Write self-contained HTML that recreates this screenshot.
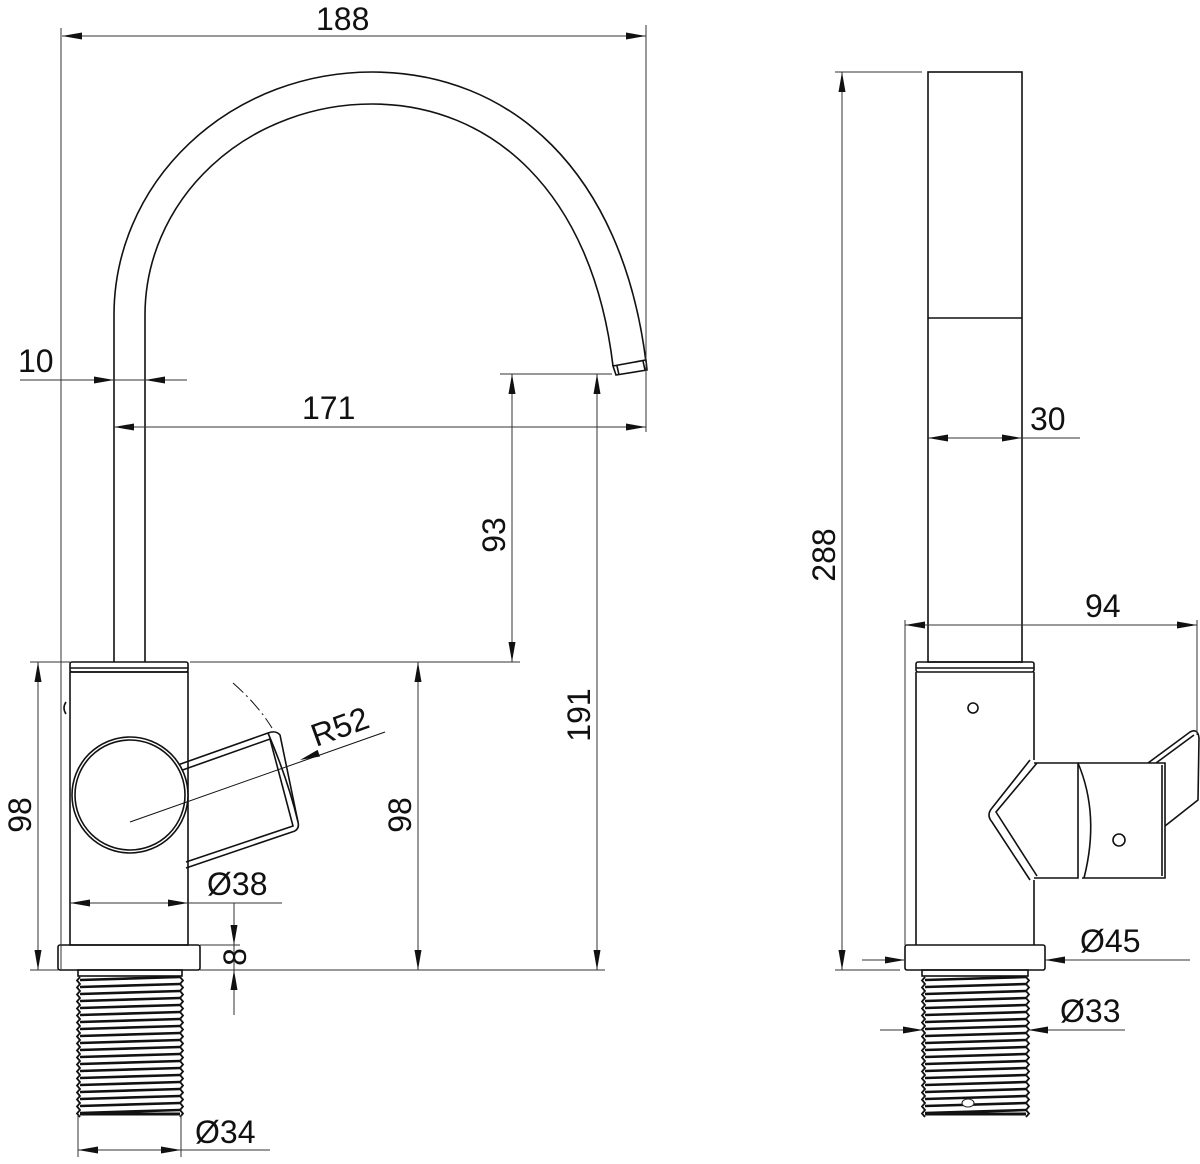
<!DOCTYPE html>
<html><head><meta charset="utf-8"><style>
html,body{margin:0;padding:0;background:#fff;}
svg{display:block;}
text{font-family:"Liberation Sans",sans-serif;font-size:32px;fill:#111;}
</style></head><body>
<svg id="s" width="1200" height="1164" viewBox="0 0 1200 1164" xmlns="http://www.w3.org/2000/svg">
<g fill="none" stroke="#111" stroke-width="1.6">
<path d="M114,662 L114,315 A258,243 0 0 1 372,72 C510,72 622,170 646,362"/>
<path d="M145,662 L145,315 A227,211 0 0 1 372,104 C490,104 592,190 613,366"/>
<path d="M613,366 L646,360 L647,370 L616,375 Z"/>
<line x1="617" y1="366" x2="619" y2="375"/><line x1="643" y1="361" x2="645" y2="370"/>
<rect x="70" y="662" width="118" height="10" rx="2"/>
<line x1="70" y1="668" x2="188" y2="668"/>
<rect x="70" y="672" width="118" height="273"/>
<path d="M66,702 Q62,708 66,714"/>
<rect x="58" y="945" width="142" height="25" rx="2"/>
<rect x="78" y="970" width="104" height="6"/>
<path d="M158,772 L268,733 Q276,730 280,735 L298,822 Q300,830 292,832 L186,868"/>
<path d="M160,778 L270,739 L293,826 L186,862"/>
<path d="M268,733 Q288,780 298,822"/>
<circle cx="130" cy="795" r="58" fill="#fff"/>
<circle cx="130" cy="795" r="55"/>
<line x1="130" y1="822" x2="385" y2="732" stroke-width="1"/>
<path d="M233,683 Q258,705 272,728" stroke-width="1" stroke-dasharray="14,4,2,4"/>
<rect x="928" y="72" width="94" height="590"/>
<line x1="928" y1="318" x2="1022" y2="318"/>
<rect x="916" y="662" width="118" height="10" rx="2"/>
<line x1="916" y1="668" x2="1034" y2="668"/>
<path d="M916,672 L916,945 M1034,672 L1034,760 M1034,880 L1034,945"/>
<rect x="905" y="945" width="140" height="25" rx="2"/>
<rect x="922" y="970" width="106" height="6"/>
<circle cx="973" cy="708" r="5"/>
<path d="M1030,760 L992,808 Q986,815 992,822 L1030,880"/>
<path d="M1037,763 L996,812 L1037,876"/>
<path d="M1034,763 L1078,763 L1078,878 L1034,878"/>
<path d="M1078,763 Q1100,815 1084,878"/>
<path d="M1078,763 L1165,763 L1165,878 L1082,878"/>
<line x1="1162" y1="765" x2="1162" y2="876"/>
<path d="M1148,763 L1190,732 Q1198,728 1199,738 L1198,800 L1165,826"/>
<path d="M1156,763 L1194,735"/>
<circle cx="1119" cy="840" r="6"/>
</g>
<g id="threads" stroke="#111" fill="none"></g>
<ellipse cx="968" cy="1103" rx="6" ry="4" fill="#fff" stroke="#222"/>
<g stroke="#333" stroke-width="1" fill="none">
<line x1="61" y1="28" x2="61" y2="970"/>
<line x1="646" y1="25" x2="646" y2="432"/>
<line x1="62" y1="36" x2="646" y2="36"/>
<line x1="20" y1="380" x2="187" y2="380"/>
<line x1="114" y1="427" x2="646" y2="427"/>
<line x1="500" y1="374" x2="612" y2="374"/>
<line x1="512" y1="374" x2="512" y2="662"/>
<line x1="597" y1="374" x2="597" y2="970"/>
<line x1="190" y1="662" x2="520" y2="662"/>
<line x1="200" y1="970" x2="605" y2="970"/>
<line x1="30" y1="662" x2="70" y2="662"/>
<line x1="30" y1="970" x2="58" y2="970"/>
<line x1="38" y1="662" x2="38" y2="970"/>
<line x1="418" y1="662" x2="418" y2="970"/>
<line x1="70" y1="903" x2="282" y2="903"/>
<line x1="200" y1="945" x2="240" y2="945"/>
<line x1="234" y1="903" x2="234" y2="1015"/>
<line x1="78" y1="1115" x2="78" y2="1157"/>
<line x1="181" y1="1115" x2="181" y2="1157"/>
<line x1="78" y1="1150" x2="270" y2="1150"/>
<line x1="835" y1="72" x2="922" y2="72"/>
<line x1="835" y1="970" x2="900" y2="970"/>
<line x1="842" y1="72" x2="842" y2="970"/>
<line x1="928" y1="438" x2="1080" y2="438"/>
<line x1="905" y1="620" x2="905" y2="945"/>
<line x1="1197" y1="620" x2="1197" y2="735"/>
<line x1="905" y1="625" x2="1197" y2="625"/>
<line x1="862" y1="960" x2="905" y2="960"/>
<line x1="1045" y1="960" x2="1190" y2="960"/>
<line x1="880" y1="1030" x2="923" y2="1030"/>
<line x1="1028" y1="1030" x2="1125" y2="1030"/>
</g>
<g id="arrows" fill="#111"></g>
<text x="316" y="30">188</text>
<text x="18" y="372">10</text>
<text x="302" y="419">171</text>
<text transform="translate(505,535) rotate(-90)" text-anchor="middle">93</text>
<text transform="translate(590,715) rotate(-90)" text-anchor="middle">191</text>
<text transform="translate(31,815) rotate(-90)" text-anchor="middle">98</text>
<text transform="translate(411,815) rotate(-90)" text-anchor="middle">98</text>
<text transform="translate(316,747) rotate(-20)">R52</text>
<text x="207" y="895">Ø38</text>
<text transform="translate(246,957) rotate(-90)" text-anchor="middle">8</text>
<text x="195" y="1143">Ø34</text>
<text transform="translate(835,555) rotate(-90)" text-anchor="middle">288</text>
<text x="1030" y="430">30</text>
<text x="1085" y="617">94</text>
<text x="1080" y="952">Ø45</text>
<text x="1060" y="1022">Ø33</text>
</svg>
<script>
var NS="http://www.w3.org/2000/svg";
var A=document.getElementById("arrows");
function ar(x,y,deg){var p=document.createElementNS(NS,"path");p.setAttribute("d","M0,0 L-20,-3.5 L-20,3.5 Z");p.setAttribute("transform","translate("+x+","+y+") rotate("+deg+")");A.appendChild(p);}
ar(62,36,180);ar(646,36,0);
ar(114,380,0);ar(145,380,180);
ar(114,427,180);ar(646,427,0);
ar(512,374,-90);ar(512,662,90);
ar(597,374,-90);ar(597,970,90);
ar(38,662,-90);ar(38,970,90);
ar(418,662,-90);ar(418,970,90);
ar(70,903,180);ar(188,903,0);
ar(234,945,90);ar(234,970,-90);
ar(78,1150,180);ar(181,1150,0);
ar(300,760,160);
ar(842,72,-90);ar(842,970,90);
ar(928,438,180);ar(1022,438,0);
ar(905,625,180);ar(1197,625,0);
ar(905,960,0);ar(1045,960,180);
ar(923,1030,0);ar(1028,1030,180);
var T=document.getElementById("threads");
function thr(x1,x2,y1,y2){
 var d="";for(var y=y1;y<y2;y+=7){d+="M"+x1+","+(y+3)+" L"+x2+","+y+" ";}
 var p=document.createElementNS(NS,"path");p.setAttribute("d",d);p.setAttribute("stroke-width","2.6");T.appendChild(p);
 var e="M"+x1+","+y1;for(var y=y1;y<y2;y+=7){e+=" L"+(x1-3)+","+(y+3.5)+" L"+x1+","+(y+7);}
 var e2="M"+x2+","+y1;for(var y=y1;y<y2;y+=7){e2+=" L"+(x2+3)+","+(y+3.5)+" L"+x2+","+(y+7);}
 [e,e2].forEach(function(s){var q=document.createElementNS(NS,"path");q.setAttribute("d",s);q.setAttribute("stroke-width","1.8");T.appendChild(q);});
 var b=document.createElementNS(NS,"line");b.setAttribute("x1",x1);b.setAttribute("x2",x2);b.setAttribute("y1",y2);b.setAttribute("y2",y2);b.setAttribute("stroke-width","3");T.appendChild(b);
}
thr(80,180,977,1114);thr(925,1026,977,1114);
</script>
</body></html>
